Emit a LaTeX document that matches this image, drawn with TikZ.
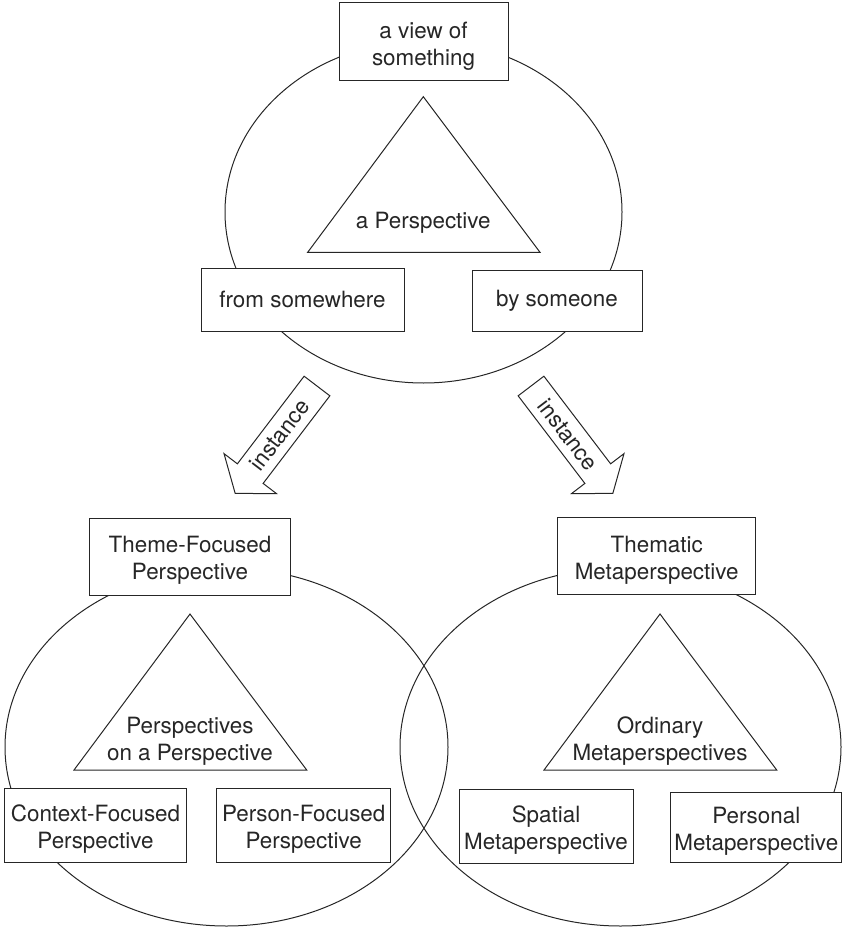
\documentclass[tikz,border=0pt]{standalone}
\usepackage{fontspec}
\setmainfont{TeX Gyre Heros}
\usetikzlibrary{shapes.arrows}

\begin{document}
\begin{tikzpicture}[x=1pt, y=-1pt, line width=1pt, color=black!85,
    box/.style={draw, align=center, inner sep=0pt, font=\fontsize{22.4}{27}\selectfont},
    lbl/.style={align=center, inner sep=0pt, font=\fontsize{22.4}{27}\selectfont},
    twoline/.style={text height=51pt},
    instarrow/.style={draw, single arrow, inner sep=2pt, minimum height=135pt, minimum width=66pt,
        single arrow head extend=11pt, single arrow tip angle=106,
        font=\fontsize{22.4}{27}\selectfont}]
            \useasboundingbox (0,0) rectangle (844,933);

            % the three ellipses
            \draw (423.5,212) ellipse [x radius=198.5pt, y radius=171pt];
            \draw (226.5,747) ellipse [x radius=221.5pt, y radius=179pt];
            \draw (620.5,747) ellipse [x radius=220.5pt, y radius=179pt];

            % top: a Perspective
            \draw[fill=white] (423.3,96.7) -- (307.7,252.3) -- (540,252.3) -- cycle;
            \node[lbl] (persp) at (423.3,223) {a Perspective};
            \node[box, twoline, fill=white, minimum width=169pt, minimum height=78pt] (view) at (423.5,42) {a view of\\something};
            \node[box, fill=white, minimum width=203pt, minimum height=63pt] (where) at (302.5,299.5) {from somewhere};
            \node[box, fill=white, minimum width=170pt, minimum height=61pt] (who) at (557,300.5) {by someone};

            % instance arrows
            \node[instarrow, rotate=52.7, shape border rotate=180, anchor=tip] (instL) at (234.8,493.9) {instance};
            \node[instarrow, rotate=-52.7, anchor=tip] (instR) at (613.2,493.9) {instance};

            % bottom left
            \draw (190,614) -- (74,770) -- (306.7,770) -- cycle;
            \node[lbl, twoline] (ppersp) at (190,737) {Perspectives\\on a Perspective};
            \node[box, twoline, fill=white, minimum width=201pt, minimum height=77pt] (theme) at (190,556.7) {Theme-Focused\\Perspective};
            \node[box, twoline, fill=white, minimum width=182pt, minimum height=74pt] (context) at (95.5,825.7) {Context-Focused\\Perspective};
            \node[box, twoline, fill=white, minimum width=174pt, minimum height=74pt] (person) at (303.7,825.7) {Person-Focused\\Perspective};

            % bottom right
            \draw (660,614) -- (544,770) -- (776.7,770) -- cycle;
            \node[lbl, twoline] (ordmeta) at (660,737) {Ordinary\\Metaperspectives};
            \node[box, twoline, fill=white, minimum width=198pt, minimum height=77pt] (thematic) at (656.7,556.3) {Thematic\\Metaperspective};
            \node[box, twoline, fill=white, minimum width=174pt, minimum height=74pt] (spatial) at (546,826) {Spatial\\Metaperspective};
            \node[box, twoline, fill=white, minimum width=171pt, minimum height=70pt] (personal) at (756.3,827.5) {Personal\\Metaperspective};
        \end{tikzpicture}
\end{document}
